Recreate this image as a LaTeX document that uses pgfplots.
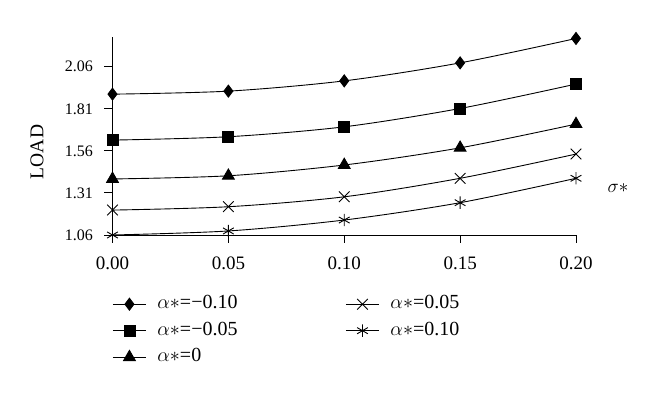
\documentclass[border=0pt]{standalone}
\usepackage{fontspec}
\setmainfont{Liberation Serif}
\usepackage{fix-cm}
\usepackage{pgfplots}
\pgfplotsset{compat=1.18}
\begin{document}
\begin{tikzpicture}[x=1pt,y=1pt]
\path[use as bounding box] (0,0) rectangle (660,395);
\begin{axis}[
  at={(112.5pt,160pt)}, anchor=south west,
  scale only axis, width=463.5pt, height=197.7pt,
  xmin=0, xmax=0.2, ymin=1.06, ymax=2.235,
  axis x line*=bottom, axis y line*=left,
  axis line style={black, line width=0.9pt},
  tick align=outside, major tick length=8pt,
  tick style={black, line width=0.9pt},
  xtick={0,0.05,0.1,0.15,0.2}, xticklabels={0.00,0.05,0.10,0.15,0.20},
  ytick={1.06,1.31,1.56,1.81,2.06}, yticklabels={1.06,1.31,1.56,1.81,2.06},
  xticklabel style={font=\fontsize{19}{20}\selectfont, yshift=-10pt},
  yticklabel style={font=\fontsize{16}{17}\selectfont, xshift=-8pt},
  xlabel={$\sigma{\ast}$}, ylabel={LOAD},
  xlabel style={at={(rel axis cs:1.0906,0.238)}, anchor=center, font=\fontsize{19}{20}\selectfont},
  ylabel style={at={(rel axis cs:-0.163,0.42)}, anchor=center, font=\fontsize{19.5}{20}\selectfont},
  clip=false,
  legend columns=2, legend cell align=left,
  legend style={at={(rel axis cs:0,-0.307)}, anchor=north west, draw=none, fill=none,
    inner sep=0pt, outer sep=0pt, font=\fontsize{20}{22}\selectfont, row sep=9.5pt,
    nodes={inner sep=0pt, text height=13pt, text depth=4pt},
    /tikz/every odd column/.append style={column sep=11pt},
    /tikz/column 2/.style={column sep=108pt}},
  legend image code/.code={\draw[mark repeat=2,mark phase=2] plot coordinates {(0pt,0pt)(16.5pt,0pt)(33pt,0pt)};},
]
\addplot[black, line width=0.9pt, smooth, mark=diamond*, mark size=6pt, mark options={solid, fill=black}] coordinates {
  (0,1.897) (0.05,1.915) (0.10,1.976) (0.15,2.083) (0.20,2.228)};
\addlegendentry{$\alpha{\ast}$=−0.10}
\addplot[black, line width=0.9pt, smooth, mark=x, mark size=7.5pt, mark options={solid}] coordinates {
  (0,1.208) (0.05,1.228) (0.10,1.287) (0.15,1.397) (0.20,1.541)};
\addlegendentry{$\alpha{\ast}$=0.05}
\addplot[black, line width=0.9pt, smooth, mark=square*, mark size=5.5pt, mark options={solid, fill=black}] coordinates {
  (0,1.624) (0.05,1.644) (0.10,1.703) (0.15,1.812) (0.20,1.957)};
\addlegendentry{$\alpha{\ast}$=−0.05}
\addplot[black, line width=0.9pt, smooth, mark=asterisk, mark size=6.2pt, mark options={solid}] coordinates {
  (0,1.060) (0.05,1.084) (0.10,1.149) (0.15,1.252) (0.20,1.397)};
\addlegendentry{$\alpha{\ast}$=0.10}
\addplot[black, line width=0.9pt, smooth, mark=triangle*, mark size=6.8pt, mark options={solid, fill=black}] coordinates {
  (0,1.393) (0.05,1.412) (0.10,1.476) (0.15,1.578) (0.20,1.719)};
\addlegendentry{$\alpha{\ast}$=0}
\end{axis}
\end{tikzpicture}
\end{document}
